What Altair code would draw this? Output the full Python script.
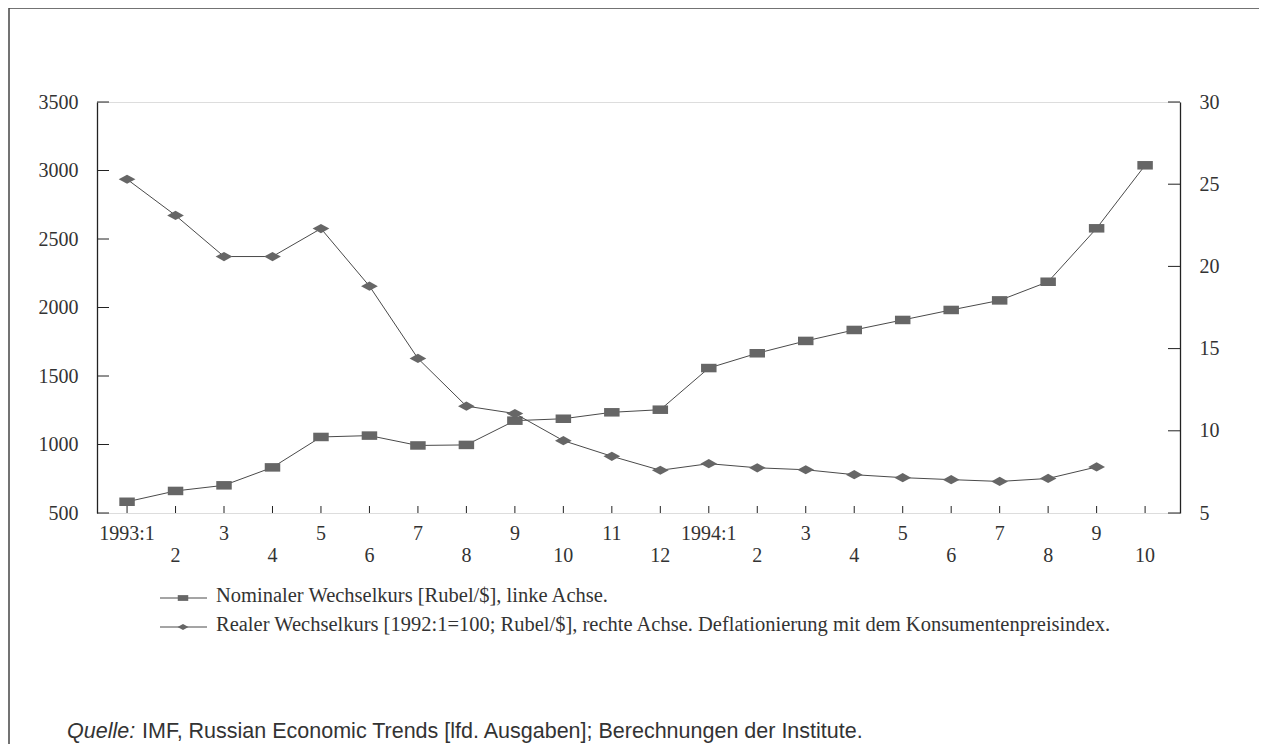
import altair as alt
import pandas as pd

# ---- data ----
month_labels = ["1993:1", "2", "3", "4", "5", "6", "7", "8", "9", "10", "11", "12",
                "1994:1", "2", "3", "4", "5", "6", "7", "8", "9", "10"]
nominal = [582, 661, 702, 833, 1055, 1065, 993, 997, 1174, 1188, 1235, 1254,
           1558, 1666, 1756, 1836, 1909, 1982, 2052, 2188, 2578, 3038]
real = [25.3, 23.1, 20.6, 20.6, 22.3, 18.8, 14.4, 11.5, 11.05, 9.4, 8.45, 7.6,
        8.0, 7.75, 7.63, 7.33, 7.15, 7.03, 6.92, 7.1, 7.8, None]
left_ticks = [500, 1000, 1500, 2000, 2500, 3000, 3500]
right_ticks = [5, 10, 15, 20, 25, 30]
legend_labels = ["Nominaler Wechselkurs [Rubel/$], linke Achse.",
                 "Realer Wechselkurs [1992:1=100; Rubel/$], rechte Achse. Deflationierung mit dem Konsumentenpreisindex."]
source_lead = "Quelle:"
source_text = "IMF, Russian Economic Trends [lfd. Ausgaben]; Berechnungen der Institute."

W, H = 1083, 411
SERIF = "Liberation Serif"
SANS = "Liberation Sans"
MARK = "#666666"
LINE = "#4a4a4a"
AX = "#222222"
SQUARE = "M-1,-0.55L1,-0.55L1,0.55L-1,0.55Z"
DIAMOND = "M-1,0L0,-0.55L1,0L0,0.55Z"

n = len(month_labels)
df = pd.DataFrame({
    "idx": list(range(1, n + 1)),
    "label": month_labels,
    "nominal": nominal,
    "real": real,
})
df["row"] = [(i % 2) for i in range(n)]

xs = alt.Scale(domain=[0.38, 22.72], nice=False, zero=False)
X = alt.X("idx:Q", scale=xs, axis=None)

left_scale = alt.Scale(domain=[500, 3500], nice=False, zero=False)
right_scale = alt.Scale(domain=[5, 30], nice=False, zero=False)

left_axis = alt.Axis(values=left_ticks, orient="left", domain=True, domainColor=AX, domainWidth=1.3,
                     ticks=False, grid=False, format="d",
                     labelFont=SERIF, labelFontSize=20, labelColor="#333",
                     labelPadding=19, title=None)
right_axis = alt.Axis(values=right_ticks, orient="right", domain=True, domainColor=AX, domainWidth=1.3,
                      ticks=False, grid=False, format="d",
                      labelFont=SERIF, labelFontSize=20, labelColor="#333",
                      labelPadding=19, title=None)

base = alt.Chart(df)

nom_line = base.mark_line(color=LINE, strokeWidth=1).encode(
    x=X, y=alt.Y("nominal:Q", scale=left_scale, axis=left_axis))
nom_pts = base.mark_point(shape=SQUARE, size=240, filled=True, color=MARK, opacity=1).encode(
    x=X, y=alt.Y("nominal:Q", scale=left_scale, axis=left_axis))
lt = alt.Chart(pd.DataFrame({"v": left_ticks})).mark_rule(color=AX, strokeWidth=1).encode(
    y=alt.Y("v:Q", scale=left_scale, axis=left_axis), x=alt.value(0), x2=alt.value(12))
left_group = alt.layer(nom_line, nom_pts, lt)

real_df = df.dropna(subset=["real"])
rbase = alt.Chart(real_df)
real_line = rbase.mark_line(color=LINE, strokeWidth=1).encode(
    x=X, y=alt.Y("real:Q", scale=right_scale, axis=right_axis))
real_pts = rbase.mark_point(shape=DIAMOND, size=280, filled=True, color=MARK, opacity=1).encode(
    x=X, y=alt.Y("real:Q", scale=right_scale, axis=right_axis))
rt = alt.Chart(pd.DataFrame({"v": right_ticks})).mark_rule(color=AX, strokeWidth=1).encode(
    y=alt.Y("v:Q", scale=right_scale, axis=right_axis), x=alt.value(W - 12), x2=alt.value(W))
right_group = alt.layer(real_line, real_pts, rt)

# x ticks pointing inward
xticks = base.mark_rule(color=AX, strokeWidth=1).encode(
    x=X, y=alt.value(H), y2=alt.value(H - 7))

# two-row x labels
lab_top = base.transform_filter("datum.row == 0").mark_text(
    font=SERIF, fontSize=20, color="#333", baseline="middle").encode(
    x=X, y=alt.value(H + 21), text="label:N")
lab_bot = base.transform_filter("datum.row == 1").mark_text(
    font=SERIF, fontSize=20, color="#333", baseline="middle").encode(
    x=X, y=alt.value(H + 43), text="label:N")

# legend
one = pd.DataFrame({"k": [0]})
def legend_row(ypix, shape, size, text):
    b = alt.Chart(one)
    ln = b.mark_rule(color=LINE, strokeWidth=1).encode(
        x=alt.value(63), x2=alt.value(110), y=alt.value(ypix))
    pt = b.mark_point(shape=shape, size=size, filled=True, color=MARK, opacity=1).encode(
        x=alt.value(86), y=alt.value(ypix))
    tx = b.mark_text(font=SERIF, fontSize=20.5, color="#333", align="left", baseline="middle").encode(
        x=alt.value(119), y=alt.value(ypix - 2), text=alt.value(text))
    return [ln, pt, tx]

leg = legend_row(H + 85, SQUARE, 110, legend_labels[0]) + \
      legend_row(H + 114, DIAMOND, 120, legend_labels[1])

src1 = alt.Chart(one).mark_text(font=SANS, fontSize=21.5, fontStyle="italic", color="#333",
                                align="left", baseline="middle").encode(
    x=alt.value(-30), y=alt.value(H + 219), text=alt.value(source_lead))
src2 = alt.Chart(one).mark_text(font=SANS, fontSize=21.5, color="#333",
                                align="left", baseline="middle").encode(
    x=alt.value(45), y=alt.value(H + 219), text=alt.value(source_text))

# outer frame (top, left, right)
frame_top = alt.Chart(one).mark_rule(color="#444", strokeWidth=1.5).encode(
    x=alt.value(-88), x2=alt.value(W + 80), y=alt.value(-94))
frame_left = alt.Chart(one).mark_rule(color="#444", strokeWidth=1.5).encode(
    x=alt.value(-88), y=alt.value(-94), y2=alt.value(H + 240))
frame_right = alt.Chart(one).mark_rule(color="#444", strokeWidth=1.5).encode(
    x=alt.value(W + 80), y=alt.value(-94), y2=alt.value(H + 240))

chart = alt.layer(
    left_group, right_group, xticks, lab_top, lab_bot, *leg, src1, src2,
    frame_top, frame_left, frame_right
).resolve_scale(y="independent").properties(
    width=W, height=H,
    padding={"left": 89, "top": 94, "right": 79, "bottom": 231},
    autosize=alt.AutoSizeParams(type="none"),
).configure_view(stroke=AX, strokeWidth=1.3).configure(background="white")

chart.save("out.html", embed_options={"renderer": "svg", "actions": False})
